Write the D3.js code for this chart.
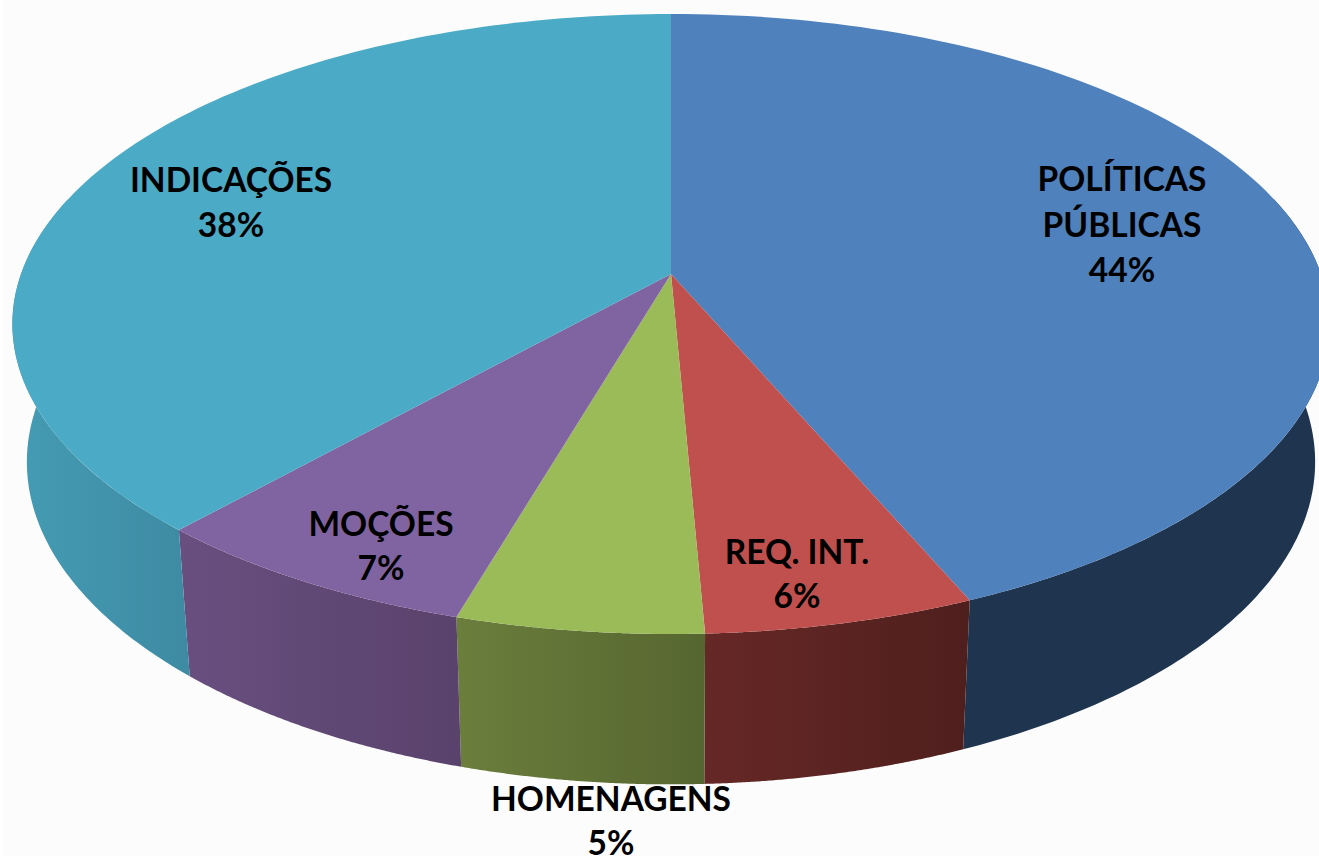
<!DOCTYPE html>
<html lang="pt">
<head>
<meta charset="utf-8">
<script src="https://cdnjs.cloudflare.com/ajax/libs/d3/7.8.5/d3.min.js"></script>
<style>
html,body{margin:0;padding:0;background:#fff;overflow:hidden}
svg{display:block}
text{font-family:Lato,"Open Sans",sans-serif;font-weight:700;fill:#000;text-anchor:middle}
</style>
</head>
<body>
<svg id="chart" width="1319" height="856"></svg>
<script>
const categories = ["POLÍTICAS PÚBLICAS", "REQ. INT.", "HOMENAGENS", "MOÇÕES", "INDICAÇÕES"];
const labelLines = [["POLÍTICAS", "PÚBLICAS", "44%"], ["REQ. INT.", "6%"], ["HOMENAGENS", "5%"], ["MOÇÕES", "7%"], ["INDICAÇÕES", "38%"]];
const values = [43.6, 5.7, 5.2, 7.1, 38.4];
const topColors = ["#4f81bd", "#c0504d", "#9bbb59", "#8064a2", "#4babc6"];
const wallStart = ["#1f344e", "#662826", "#6b7e3c", "#684f80", "#459cb4"];
const wallEnd = ["#1f344e", "#4f1f1d", "#566630", "#59426b", "#3e8aa3"];

// layout
const W = 1319, H = 856, CX = 671, APEX_Y = 274, TOP_Y = 14, BOTTOM_Y = 634, K = 650;
const LOWER_SX = 0.978, LOWER_SY = 1.04, LOWER_DY = 125;
const labelX = [1122, 797, 611, 381, 231];
const labelY = [191, 564, 811, 536, 192];
const lineStep = [45.5, 43.5, 44, 44, 45];
const FONT = 33.5;

// perspective disc: y runs -1 (far) to 1 (near)
const c = (2 * APEX_Y - BOTTOM_Y - TOP_Y) / (BOTTOM_Y - TOP_Y);
const a = BOTTOM_Y * (1 + c) - APEX_Y;
const project = ang => {
  const x = Math.sin(ang), y = -Math.cos(ang), d = 1 + c * y;
  return [CX + K * x / d, (APEX_Y + a * y) / d];
};
const lower = ([x, y]) => [CX + LOWER_SX * (x - CX), LOWER_SY * y + LOWER_DY];

const svg = d3.select("#chart");
svg.append("rect").attr("width", W).attr("height", H).attr("fill", "#fcfcfc");
svg.append("rect").attr("width", 2).attr("height", H).attr("fill", "#ffffff");

const arcs = d3.pie().sort(null).value(d => d)(values);
const line = d3.line();
const arcPts = (a0, a1) => d3.range(0, 121).map(i => project(a0 + (a1 - a0) * i / 120));
const defs = svg.append("defs");

// Side wall, only where it can face the viewer
const wallMin = 75 * Math.PI / 180, wallMax = 285 * Math.PI / 180;
arcs.forEach((d, i) => {
  const a0 = Math.max(d.startAngle, wallMin), a1 = Math.min(d.endAngle, wallMax);
  if (a1 <= a0) return;
  const up = arcPts(a0, a1), low = up.map(lower).reverse();
  const all = up.concat(low), xs = all.map(p => p[0]);
  const g = defs.append("linearGradient").attr("id", "w" + i)
    .attr("gradientUnits", "userSpaceOnUse")
    .attr("x1", d3.min(xs)).attr("x2", d3.max(xs)).attr("y1", 0).attr("y2", 0);
  g.append("stop").attr("offset", 0).attr("stop-color", wallStart[i]);
  g.append("stop").attr("offset", 1).attr("stop-color", wallEnd[i]);
  svg.append("path").attr("d", line(all) + "Z").attr("fill", `url(#w${i})`);
});

// Top face
arcs.forEach((d, i) => {
  const pts = [[CX, APEX_Y]].concat(arcPts(d.startAngle, d.endAngle));
  svg.append("path").attr("d", line(pts) + "Z").attr("fill", topColors[i]);
});

// Labels
labelLines.forEach((lines, i) => {
  const t = svg.append("text").attr("font-size", FONT);
  lines.forEach((s, j) => t.append("tspan").attr("x", labelX[i]).attr("y", labelY[i] + j * lineStep[i]).text(s));
});
</script>
</body>
</html>
